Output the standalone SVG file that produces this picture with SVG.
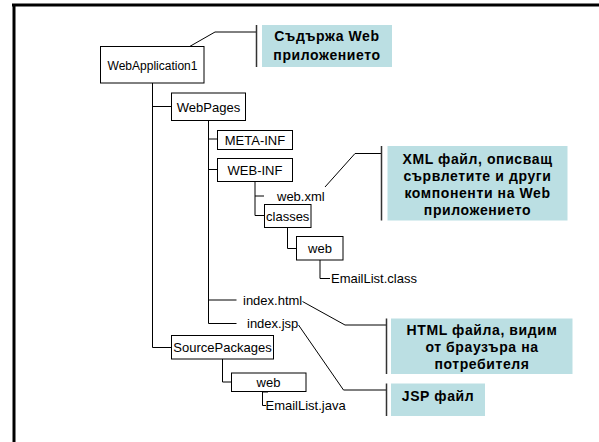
<svg xmlns="http://www.w3.org/2000/svg" width="599" height="442" viewBox="0 0 599 442">
<style>
.box{fill:#fff;stroke:#000;stroke-width:1}
.t{font-family:"Liberation Sans",Arial,sans-serif;font-size:13px;fill:#000}
.c{text-anchor:middle}
.ln{fill:none;stroke:#000;stroke-width:1}
.br{fill:none;stroke:#333;stroke-width:1.5}
.note{fill:#BBDFE3}
.nt{font-family:"Liberation Sans",Arial,sans-serif;font-size:14px;letter-spacing:0.6px;font-weight:bold;fill:#000;text-anchor:middle}
</style>
<rect x="0" y="0" width="599" height="442" fill="#fff"/>
<path d="M12,5 H599 M14,5 V442" fill="none" stroke="#000" stroke-width="3"/>
<g id="connectors">
<path class="ln" d="M152.5,83 V347.5 H171 M152.5,106.5 H171"/>
<path class="ln" d="M208.5,120 V323.5 H236.5 M208.5,139 H217 M208.5,169.5 H217 M208.5,300 H236.5"/>
<path class="ln" d="M255,182 V215.5 H264 M255,196 H264"/>
<path class="ln" d="M287.5,228 V248.5 H296.5"/>
<path class="ln" d="M320,260 V278.5 H330"/>
<path class="ln" d="M222.5,359 V382 H231"/>
<path class="ln" d="M268,392 H262.5 V405.5 H266"/>
<path class="ln" d="M173,56 L215,32 H256.5"/>
<path class="ln" d="M325,187 L355,153.5 H381.5"/>
<path class="ln" d="M302.5,301.5 L345,325 H386.5"/>
<path class="ln" d="M298.5,325 L343.5,390 H386.5"/>
<path class="br" d="M256.5,25 V67 M381.5,146 V220.5 M386.5,318.5 V374 M386.5,383.5 V416"/>
</g>
<g id="n-webapp"><rect class="box" x="100.5" y="46.5" width="103.5" height="36.5"/><text class="t c" x="152.5" y="70" style="font-size:12px">WebApplication1</text></g>
<g id="n-webpages"><rect class="box" x="171.5" y="93" width="74" height="27.5"/><text class="t c" x="208.5" y="111.5">WebPages</text></g>
<g id="n-metainf"><rect class="box" x="217.5" y="130.5" width="75" height="19"/><text class="t c" x="255" y="144.5">META-INF</text></g>
<g id="n-webinf"><rect class="box" x="217.5" y="158.5" width="75" height="23"/><text class="t c" x="255" y="174.5">WEB-INF</text></g>
<g id="n-webxml"><text class="t" x="277" y="200.5">web.xml</text></g>
<g id="n-classes"><rect class="box" x="264.5" y="204.5" width="46.5" height="23"/><text class="t c" x="287.7" y="220.5">classes</text></g>
<g id="n-web1"><rect class="box" x="296.5" y="236.5" width="46.5" height="23.5"/><text class="t c" x="320" y="252.5">web</text></g>
<g id="n-emailclass"><text class="t" x="331" y="283">EmailList.class</text></g>
<g id="n-indexhtml"><text class="t" x="243" y="304.5">index.html</text></g>
<g id="n-indexjsp"><text class="t" x="247" y="328">index.jsp</text></g>
<g id="n-srcpkg"><rect class="box" x="171.5" y="335.5" width="102" height="23.5"/><text class="t c" x="222.5" y="351.5">SourcePackages</text></g>
<g id="n-web2"><rect class="box" x="231.5" y="373" width="74.5" height="18.5"/><text class="t c" x="268.5" y="386.5">web</text></g>
<g id="n-emailjava"><text class="t" x="265.5" y="410">EmailList.java</text></g>
<g id="note-webapp"><rect class="note" x="262" y="25" width="130" height="42"/><text class="nt" x="327" y="41">Съдържа Web</text><text class="nt" x="327" y="60">приложението</text></g>
<g id="note-xml"><rect class="note" x="387.5" y="146" width="180" height="74.5"/><text class="nt" x="477.5" y="164">XML файл, описващ</text><text class="nt" x="477.5" y="181">сървлетите и други</text><text class="nt" x="477.5" y="198">компоненти на Web</text><text class="nt" x="477.5" y="215">приложението</text></g>
<g id="note-html"><rect class="note" x="391" y="318.5" width="181.5" height="55.5"/><text class="nt" x="482" y="335">HTML файла, видим</text><text class="nt" x="482" y="352">от браузъра на</text><text class="nt" x="482" y="369">потребителя</text></g>
<g id="note-jsp"><rect class="note" x="391" y="383.5" width="94" height="32.5"/><text class="nt" x="438" y="401">JSP файл</text></g>
</svg>
